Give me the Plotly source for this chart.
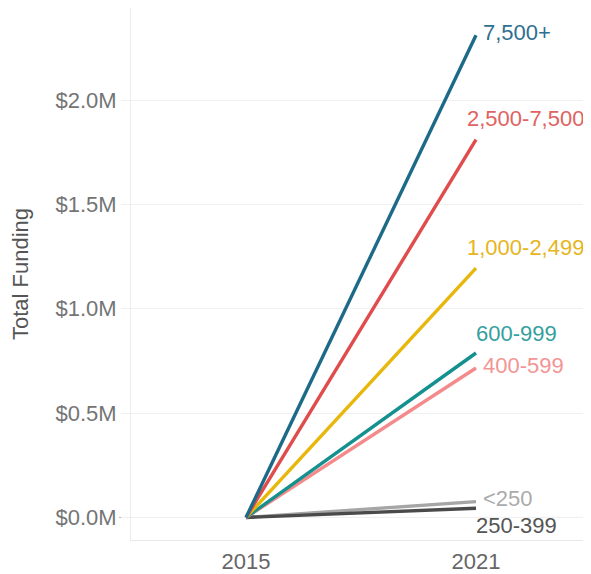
import plotly.graph_objects as go

years = ["2015", "2021"]
series_names = ["7,500+", "2,500-7,500", "1,000-2,499", "600-999", "400-599", "<250", "250-399"]
values_2015 = [0.0, 0.0, 0.0, 0.0, 0.0, 0.0, 0.0]
values_2021 = [2.31, 1.81, 1.195, 0.788, 0.716, 0.076, 0.044]
colors = ["#1d6a88", "#e04b4b", "#e8b70c", "#14908e", "#f38a8b", "#a6a6a6", "#4a4a4a"]
label_colors = ["#2f7090", "#e06262", "#e6b520", "#35a09d", "#f29595", "#ababab", "#555555"]
label_shift = [(5, 3), (-11, 21), (-11, 21), (-2, 20), (5, 3), (5, 3), (-2, -17)]
ytick_vals = [0.0, 0.5, 1.0, 1.5, 2.0, 2.5]
ytick_text = ["$%.1fM" % v for v in ytick_vals]

FONT = "Liberation Sans, Arial, sans-serif"

fig = go.Figure()
order = [5, 6, 4, 3, 2, 1, 0]
for i in order:
    fig.add_trace(go.Scatter(
        x=years, y=[values_2015[i], values_2021[i]], mode="lines",
        line=dict(color=colors[i], width=3.4), name=series_names[i],
        showlegend=False, hoverinfo="skip"))

last = len(years) - 1
for i, name in enumerate(series_names):
    dx, dy = label_shift[i]
    fig.add_annotation(x=last, xref="x", y=values_2021[i], yref="y", text=name,
                       showarrow=False, xanchor="left", yanchor="middle",
                       xshift=dx, yshift=dy,
                       font=dict(color=label_colors[i], size=22, family=FONT))

fig.add_shape(type="line", xref="paper", yref="y", x0=-0.026, x1=1, y0=0, y1=0,
              line=dict(color="#b5b5b5", width=1, dash="dot"), layer="below")

fig.update_layout(
    width=583, height=566,
    margin=dict(l=123, r=0, t=0, b=34),
    paper_bgcolor="white", plot_bgcolor="white",
    font=dict(family=FONT, color="#707070"),
    xaxis=dict(type="category", range=[-0.5, 1.5], showgrid=False, zeroline=False,
               showline=True, linecolor="#e8e8e8", linewidth=1,
               tickfont=dict(size=22, color="#666666", family=FONT), ticks="",
               ticklabelstandoff=2),
    yaxis=dict(range=[-0.108, 2.441], tickmode="array", tickvals=ytick_vals, ticktext=ytick_text,
               showgrid=True, gridcolor="#f0f0f0", gridwidth=1,
               zeroline=False, showline=True, linecolor="#ececec", linewidth=1,
               ticks="outside", ticklen=9, tickcolor="#f0f0f0",
               tickfont=dict(size=22, color="#747474", family=FONT),
               title=dict(text="Total Funding", font=dict(size=22, color="#555555", family=FONT),
                          standoff=20)),
)

fig.write_html("out.html")
